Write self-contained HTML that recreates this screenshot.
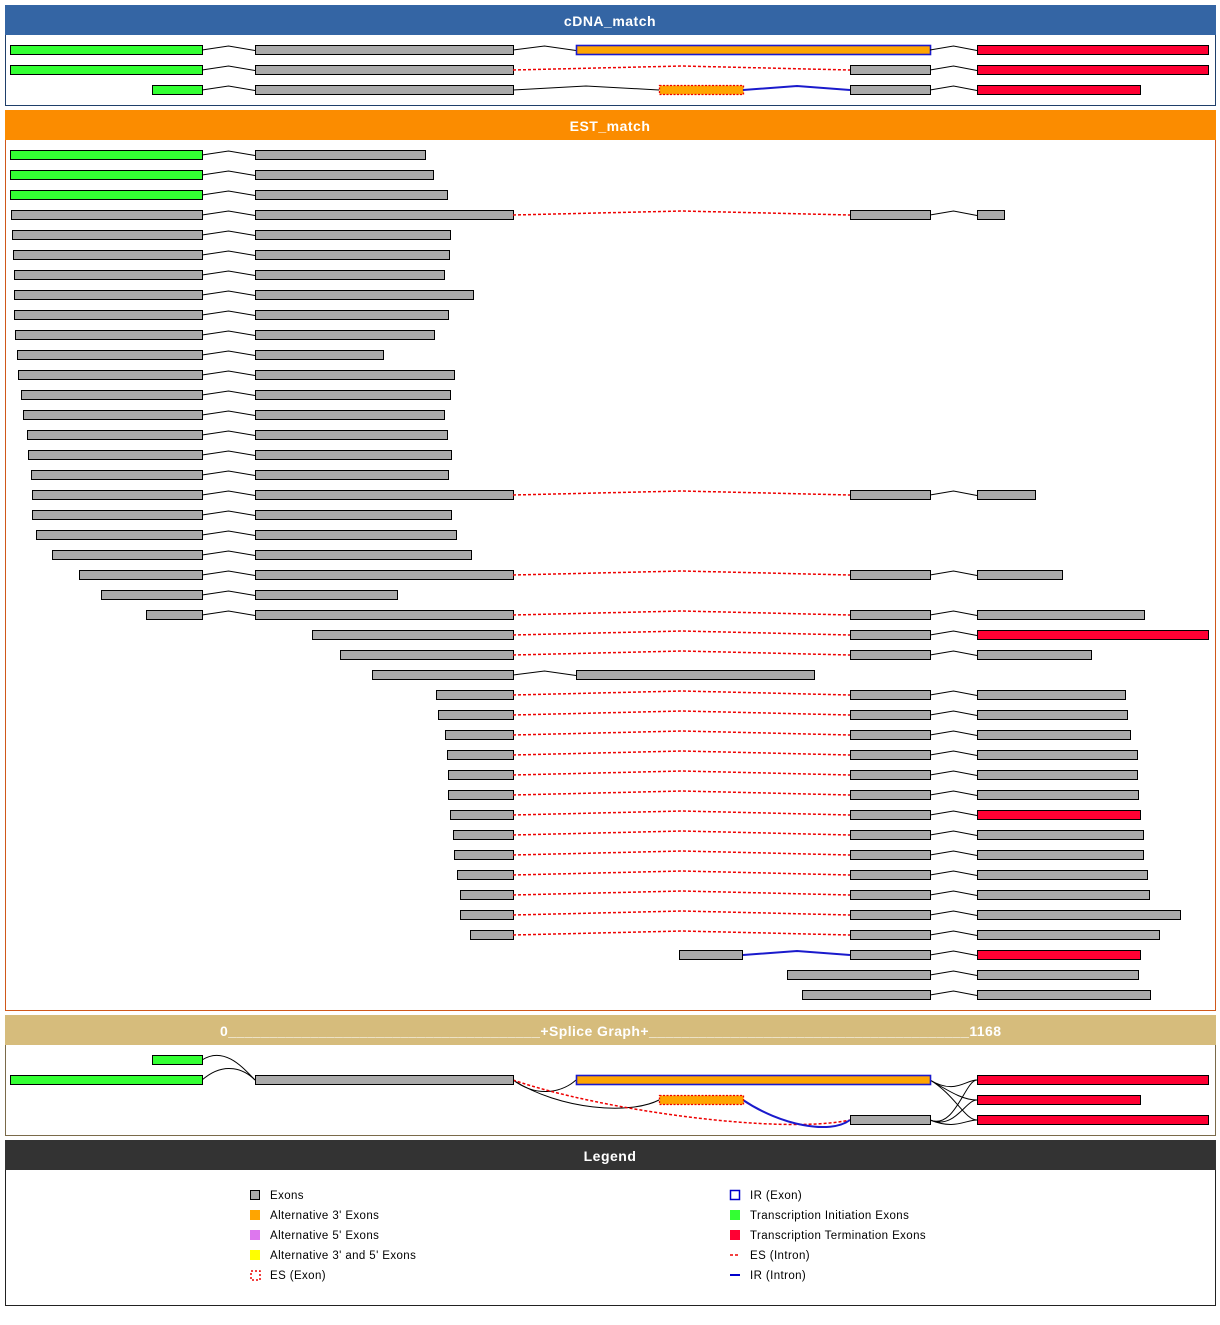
<!DOCTYPE html>
<html><head><meta charset="utf-8">
<style>
body{margin:0;background:#fff;width:1220px;height:1325px;overflow:hidden;font-family:"Liberation Sans","DejaVu Sans",sans-serif}
svg{position:absolute;left:0;top:0}
</style></head><body>
<svg id="s" width="1220" height="1325" xmlns="http://www.w3.org/2000/svg">
<rect x="5.5" y="5.5" width="1210" height="100" fill="#fff" stroke="#1f3f6a"/>
<rect x="5" y="5" width="1211" height="30" fill="#3465a4"/>
<text x="610" y="26" fill="#fff" font-size="14" font-weight="bold" text-anchor="middle" letter-spacing="0.5">cDNA_match</text>
<rect x="5.5" y="110.5" width="1210" height="900" fill="#fff" stroke="#d0581a"/>
<rect x="5" y="110" width="1211" height="30" fill="#fb8c00"/>
<text x="610" y="131" fill="#fff" font-size="14" font-weight="bold" text-anchor="middle" letter-spacing="0.5">EST_match</text>
<rect x="5.5" y="1015.5" width="1210" height="120" fill="#fff" stroke="#7a6a4a"/>
<rect x="5" y="1015" width="1211" height="30" fill="#d6bc7c"/>
<text x="220" y="1036" fill="#fff" font-size="14" font-weight="bold" textLength="781" lengthAdjust="spacing">0______________________________________+Splice Graph+_______________________________________1168</text>
<rect x="5.5" y="1140.5" width="1210" height="165" fill="#fff" stroke="#222"/>
<rect x="5" y="1140" width="1211" height="30" fill="#333"/>
<text x="610" y="1161" fill="#fff" font-size="14" font-weight="bold" text-anchor="middle" letter-spacing="0.5">Legend</text>
<g font-size="11.5" fill="#000" letter-spacing="0.4">
<rect x="250.5" y="1190.5" width="9" height="9" fill="#aaa" stroke="#000"/><text x="270" y="1199">Exons</text>
<rect x="250" y="1210" width="10" height="10" fill="#ffa500"/><text x="270" y="1219">Alternative 3' Exons</text>
<rect x="250" y="1230" width="10" height="10" fill="#dd77ee"/><text x="270" y="1239">Alternative 5' Exons</text>
<rect x="250" y="1250" width="10" height="10" fill="#ffff00"/><text x="270" y="1259">Alternative 3' and 5' Exons</text>
<rect x="251" y="1271" width="9" height="9" fill="#fff" stroke="#e00" stroke-width="1.5" stroke-dasharray="2,2"/><text x="270" y="1279">ES (Exon)</text>
<rect x="730.5" y="1190.5" width="9" height="9" fill="#fff" stroke="#00c" stroke-width="1.5"/><text x="750" y="1199">IR (Exon)</text>
<rect x="730" y="1210" width="10" height="10" fill="#3f3"/><text x="750" y="1219">Transcription Initiation Exons</text>
<rect x="730" y="1230" width="10" height="10" fill="#f03"/><text x="750" y="1239">Transcription Termination Exons</text>
<line x1="730" y1="1255" x2="740" y2="1255" stroke="#e00" stroke-width="1.5" stroke-dasharray="3,2"/><text x="750" y="1259">ES (Intron)</text>
<line x1="730" y1="1275" x2="740" y2="1275" stroke="#00c" stroke-width="2"/><text x="750" y="1279">IR (Intron)</text>
</g>
<g id="g"></g>
</svg>
<script>
var out='';
var C={g:'#aaa',G:'#3f3',R:'#f03',O:'#ffa500'};
function bar(x1,x2,y,c,extra){out+='<rect x="'+(x1+.5)+'" y="'+(y-4.5)+'" width="'+(x2-x1)+'" height="9" fill="'+C[c]+'" stroke="#000" '+(extra||'')+'/>';}
function irbar(x1,x2,y){out+='<rect x="'+(x1+.5)+'" y="'+(y-4.5)+'" width="'+(x2-x1)+'" height="9" fill="#ffa500" stroke="#1a1acc" stroke-width="1.6"/>';}
function esbar(x1,x2,y){out+='<rect x="'+(x1+.5)+'" y="'+(y-4.5)+'" width="'+(x2-x1)+'" height="9" fill="#ffa500" stroke="#e00" stroke-width="1.3" stroke-dasharray="2,1.5"/>';}
function con(x1,x2,y){var m=(x1+x2)/2;out+='<polyline points="'+x1+','+y+' '+m+','+(y-4)+' '+x2+','+(y+0.5)+'" fill="none" stroke="#000"/>';}
function es(y){out+='<polyline points="513,'+y+' 682,'+(y-4)+' 850,'+y+'" fill="none" stroke="#e00" stroke-width="1.5" stroke-dasharray="3,2"/>';}
function ir(y){out+='<polyline points="743,'+y+' 797,'+(y-4)+' 850,'+y+'" fill="none" stroke="#1a1acc" stroke-width="2"/>';}
var y=50; bar(10,202,y,'G');con(202,255,y);bar(255,513,y,'g');con(513,576,y);irbar(576,930,y);con(930,977,y);bar(977,1208,y,'R');
y=70; bar(10,202,y,'G');con(202,255,y);bar(255,513,y,'g');es(y);bar(850,930,y,'g');con(930,977,y);bar(977,1208,y,'R');
y=90; bar(152,202,y,'G');con(202,255,y);bar(255,513,y,'g');out+='<polyline points="513,90 586,86 659,90" fill="none" stroke="#000"/>';esbar(659,743,y);ir(y);bar(850,930,y,'g');con(930,977,y);bar(977,1140,y,'R');
var A=[['G',10,425],['G',10,433],['G',10,447],['g',11,'E',1004],['g',12,450],['g',13,449],['g',14,444],['g',14,473],['g',14,448],['g',15,434],['g',17,383],['g',18,454],['g',21,450],['g',23,444],['g',27,447],['g',28,451],['g',31,448],['g',32,'E',1035],['g',32,451],['g',36,456],['g',52,471],['g',79,'E',1062],['g',101,397],['g',146,'E',1144]];
for(var i=0;i<A.length;i++){var r=A[i];y=155+20*i;bar(r[1],202,y,r[0]);con(202,255,y);
 if(r[2]=='E'){bar(255,513,y,'g');es(y);bar(850,930,y,'g');con(930,977,y);bar(977,r[3],y,'g');}else bar(255,r[2],y,'g');}
var B=[[312,1208,'R'],[340,1091,'g'],null,[436,1125,'g'],[438,1127,'g'],[445,1130,'g'],[447,1137,'g'],[448,1137,'g'],[448,1138,'g'],[450,1140,'R'],[453,1143,'g'],[454,1143,'g'],[457,1147,'g'],[460,1149,'g'],[460,1180,'g'],[470,1159,'g']];
for(i=0;i<B.length;i++){y=635+20*i;var r=B[i];
 if(!r){bar(372,513,y,'g');con(513,576,y);bar(576,814,y,'g');continue;}
 bar(r[0],513,y,'g');es(y);bar(850,930,y,'g');con(930,977,y);bar(977,r[1],y,r[2]);}
y=955;bar(679,742,y,'g');ir(y);bar(850,930,y,'g');con(930,977,y);bar(977,1140,y,'R');
y=975;bar(787,930,y,'g');con(930,977,y);bar(977,1138,y,'g');
y=995;bar(802,930,y,'g');con(930,977,y);bar(977,1150,y,'g');
var P='fill="none" stroke="#000"';
out+='<path d="M202,1060 C225,1045 245,1070 255,1080" '+P+'/>';
out+='<path d="M202,1080 C225,1060 245,1070 255,1080" '+P+'/>';
out+='<path d="M513,1080 C540,1100 565,1090 576,1080" '+P+'/>';
out+='<path d="M513,1080 C560,1110 630,1115 659,1100" '+P+'/>';
out+='<path d="M513,1080 C600,1110 780,1135 850,1120" fill="none" stroke="#e00" stroke-width="1.5" stroke-dasharray="3,2"/>';
out+='<path d="M743,1100 C780,1125 830,1135 850,1120" fill="none" stroke="#1a1acc" stroke-width="2"/>';
['1080','1100','1120'].forEach(function(t){out+='<path d="M930,1080 C955,1095 965,'+t+' 977,'+t+'" '+P+'/>';out+='<path d="M930,1120 C955,1130 965,'+t+' 977,'+t+'" '+P+'/>';});
bar(152,202,1060,'G');bar(10,202,1080,'G');bar(255,513,1080,'g');irbar(576,930,1080);esbar(659,743,1100);bar(850,930,1120,'g');
bar(977,1208,1080,'R');bar(977,1140,1100,'R');bar(977,1208,1120,'R');
document.getElementById('g').innerHTML=out;
</script>
</body></html>
